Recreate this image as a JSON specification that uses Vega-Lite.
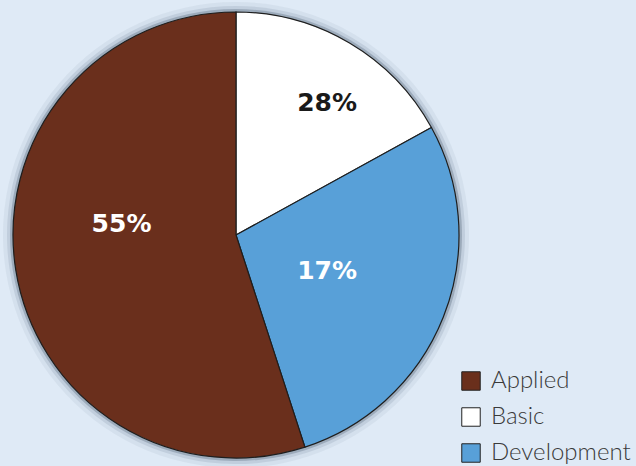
{
  "$schema": "https://vega.github.io/schema/vega-lite/v6.json",
  "autosize": {"type": "none"},
  "width": 472,
  "height": 462,
  "padding": {"left": 0, "top": 4, "right": 164, "bottom": 0},
  "background": "#dfeaf6",
  "config": {"view": {"stroke": null}},
  "data": {
    "values": [
      {"category": "Basic", "share": 17, "label": "28%", "order": 1},
      {"category": "Development", "share": 28, "label": "17%", "order": 2},
      {"category": "Applied", "share": 55, "label": "55%", "order": 3}
    ]
  },
  "encoding": {
    "theta": {"field": "share", "type": "quantitative", "stack": true},
    "order": {"field": "order", "type": "quantitative"}
  },
  "layer": [
    {
      "mark": {"type": "arc", "outerRadius": 233, "fill": "#8a9bb0", "opacity": 0.12, "strokeWidth": 0}
    },
    {
      "mark": {"type": "arc", "outerRadius": 229, "fill": "#6f8196", "opacity": 0.18, "strokeWidth": 0}
    },
    {
      "mark": {"type": "arc", "outerRadius": 226, "fill": "#4a5a6e", "opacity": 0.3, "strokeWidth": 0}
    },
    {
      "mark": {"type": "arc", "outerRadius": 223, "stroke": "#1e1e1e", "strokeWidth": 1.2},
      "encoding": {
        "color": {
          "field": "category",
          "type": "nominal",
          "scale": {"domain": ["Applied", "Basic", "Development"], "range": ["#6a2f1c", "#ffffff", "#58a0d8"]},
          "legend": {
            "title": null,
            "orient": "none",
            "legendX": 459,
            "legendY": 365,
            "symbolType": "square",
            "symbolSize": 340,
            "symbolStrokeColor": "#222222",
            "symbolStrokeWidth": 1,
            "labelFont": "Lato",
            "labelFontWeight": 300,
            "labelFontSize": 24,
            "labelColor": "#3a3a3a",
            "labelOffset": 8,
            "rowPadding": 12,
            "padding": 0,
            "labelLimit": 300
          }
        }
      }
    },
    {
      "mark": {"type": "text", "radius": 160, "thetaOffset": 0.072, "font": "DejaVu Sans", "fontWeight": "bold", "fontSize": 25, "fill": "#1a1a1a"},
      "encoding": {"text": {"condition": {"test": "datum.category === 'Basic'", "field": "label"}, "value": ""}}
    },
    {
      "mark": {"type": "text", "radius": 98, "font": "DejaVu Sans", "fontWeight": "bold", "fontSize": 25, "fill": "#ffffff"},
      "encoding": {"text": {"condition": {"test": "datum.category === 'Development'", "field": "label"}, "value": ""}}
    },
    {
      "mark": {"type": "text", "radius": 115, "thetaOffset": 0.253, "font": "DejaVu Sans", "fontWeight": "bold", "fontSize": 25, "fill": "#ffffff"},
      "encoding": {"text": {"condition": {"test": "datum.category === 'Applied'", "field": "label"}, "value": ""}}
    }
  ]
}
